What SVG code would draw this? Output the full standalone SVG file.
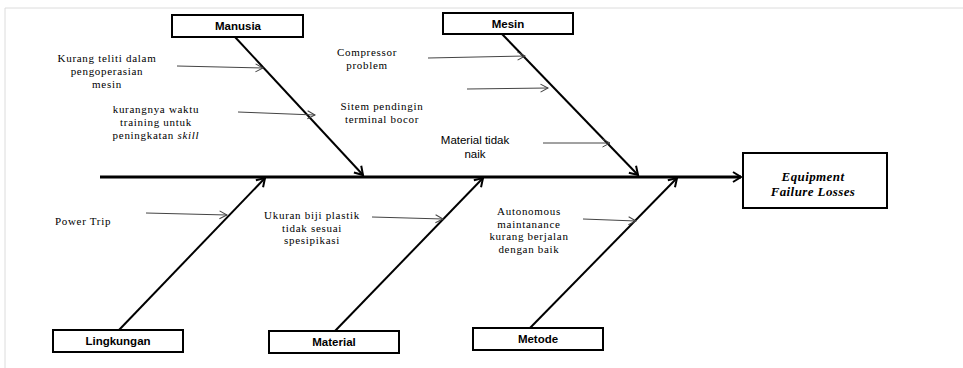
<svg xmlns="http://www.w3.org/2000/svg" width="963" height="368" viewBox="0 0 963 368">
<defs>
<style>
.frame{stroke:#dcdcdc;stroke-width:1;fill:none}
.box{fill:#fff;stroke:#000;stroke-width:2}
.bl{font-family:"Liberation Sans",Arial,sans-serif;font-weight:bold;font-size:11.5px;fill:#000;text-anchor:middle}
.lbl{font-family:"Liberation Serif","Times New Roman",serif;font-size:11px;fill:#000;text-anchor:middle;letter-spacing:0.7px}
.sl{font-family:"Liberation Sans",Arial,sans-serif;font-size:11.5px;fill:#000;text-anchor:middle}
.eq{font-family:"Liberation Serif","Times New Roman",serif;font-size:13px;font-weight:bold;font-style:italic;fill:#000;text-anchor:middle;letter-spacing:0.4px}
.main{stroke:#000;stroke-width:3;fill:none}
.spine{stroke:#000;stroke-width:2;fill:none}
.sub{stroke:#444;stroke-width:1;fill:none}
</style>
<marker id="ah" markerUnits="userSpaceOnUse" markerWidth="14" markerHeight="14" refX="10" refY="7" orient="auto">
<path d="M2,2 L10,7 L2,12" fill="none" stroke="#000" stroke-width="2"/>
</marker>
<marker id="ahs" markerUnits="userSpaceOnUse" markerWidth="12" markerHeight="12" refX="9" refY="6" orient="auto">
<path d="M1.5,2 L9,6 L1.5,10" fill="none" stroke="#444" stroke-width="1"/>
</marker>
</defs>
<rect width="963" height="368" fill="#fff"/>
<path class="frame" d="M5,368 V8 H963"/>
<g id="connectors">
<line class="main" x1="100" y1="177" x2="741" y2="177" marker-end="url(#ah)"/>
<line class="spine" x1="235" y1="37" x2="363" y2="175" marker-end="url(#ah)"/>
<line class="spine" x1="502" y1="34" x2="638" y2="175" marker-end="url(#ah)"/>
<line class="spine" x1="119" y1="330" x2="265" y2="178" marker-end="url(#ah)"/>
<line class="spine" x1="335" y1="331" x2="483" y2="178" marker-end="url(#ah)"/>
<line class="spine" x1="530" y1="328" x2="677" y2="178" marker-end="url(#ah)"/>
<line class="sub" x1="177" y1="66" x2="263" y2="68" marker-end="url(#ahs)"/>
<line class="sub" x1="238" y1="112" x2="315" y2="115" marker-end="url(#ahs)"/>
<line class="sub" x1="428" y1="58" x2="525" y2="56" marker-end="url(#ahs)"/>
<line class="sub" x1="467" y1="89" x2="548" y2="88" marker-end="url(#ahs)"/>
<line class="sub" x1="543" y1="143" x2="610" y2="143" marker-end="url(#ahs)"/>
<line class="sub" x1="146" y1="213" x2="227" y2="215" marker-end="url(#ahs)"/>
<line class="sub" x1="372" y1="217" x2="443" y2="219" marker-end="url(#ahs)"/>
<line class="sub" x1="583" y1="219" x2="636" y2="221" marker-end="url(#ahs)"/>
</g>
<g id="manusia">
<rect class="box" x="172" y="15" width="131" height="22"/>
<text class="bl" x="238" y="30">Manusia</text>
</g>
<g id="mesin">
<rect class="box" x="443" y="13" width="130" height="21"/>
<text class="bl" x="508" y="28">Mesin</text>
</g>
<g id="lingkungan">
<rect class="box" x="53" y="330" width="130" height="22"/>
<text class="bl" x="118" y="345">Lingkungan</text>
</g>
<g id="material">
<rect class="box" x="269" y="331" width="130" height="22"/>
<text class="bl" x="334" y="346">Material</text>
</g>
<g id="metode">
<rect class="box" x="473" y="328" width="130" height="22"/>
<text class="bl" x="538" y="343">Metode</text>
</g>
<g id="effect">
<rect class="box" x="743" y="153" width="144" height="55"/>
<text class="eq" x="813" y="181">Equipment</text>
<text class="eq" x="813" y="196">Failure Losses</text>
</g>
<g id="cause-kurang-teliti">
<text class="lbl" x="107" y="62">Kurang teliti  dalam</text>
<text class="lbl" x="107" y="75">pengoperasian</text>
<text class="lbl" x="107" y="88">mesin</text>
</g>
<g id="cause-training">
<text class="lbl" x="156" y="113">kurangnya waktu</text>
<text class="lbl" x="156" y="126">training  untuk</text>
<text class="lbl" x="156" y="139">peningkatan <tspan font-style="italic">skill</tspan></text>
</g>
<g id="cause-compressor">
<text class="lbl" x="367" y="56">Compressor</text>
<text class="lbl" x="367" y="69">problem</text>
</g>
<g id="cause-sitem">
<text class="lbl" x="382" y="110">Sitem pendingin</text>
<text class="lbl" x="382" y="123">terminal bocor</text>
</g>
<g id="cause-material-naik">
<text class="sl" x="475" y="144">Material tidak</text>
<text class="sl" x="475" y="158">naik</text>
</g>
<g id="cause-power">
<text class="lbl" x="83" y="225">Power Trip</text>
</g>
<g id="cause-ukuran">
<text class="lbl" x="312" y="219">Ukuran biji  plastik</text>
<text class="lbl" x="312" y="231.5">tidak sesuai</text>
<text class="lbl" x="312" y="244">spesipikasi</text>
</g>
<g id="cause-autonomous">
<text class="lbl" x="529" y="215">Autonomous</text>
<text class="lbl" x="529" y="227.5">maintanance</text>
<text class="lbl" x="529" y="240">kurang berjalan</text>
<text class="lbl" x="529" y="252.5">dengan baik</text>
</g>
</svg>
